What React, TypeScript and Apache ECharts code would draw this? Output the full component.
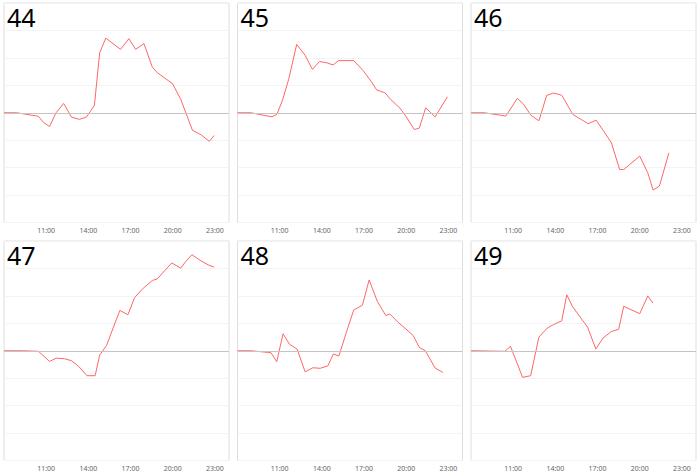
import React, { useEffect, useRef } from "react";
import * as echarts from "echarts";

const panelNames = ["44", "45", "46", "47", "48", "49"];

const p44: [number, number][] = [
  [8.0, 0], [8.9, 0], [10.45, -0.13], [10.8, -0.35], [11.24, -0.5], [11.7, 0], [12.24, 0.34],
  [12.8, -0.16], [13.36, -0.24], [13.86, -0.16], [14.43, 0.27], [14.8, 2.18], [15.24, 2.72],
  [16.29, 2.31], [16.88, 2.7], [17.36, 2.31], [17.95, 2.52], [18.55, 1.66], [18.9, 1.46],
  [19.98, 1.06], [20.57, 0.49], [21.4, -0.64], [22.0, -0.8], [22.6, -1.04], [22.95, -0.83],
];

const p45: [number, number][] = [
  [8.0, 0], [8.95, 0], [10.45, -0.15], [10.8, -0.06], [11.2, 0.46], [11.64, 1.22], [12.21, 2.49],
  [12.8, 2.1], [13.33, 1.58], [13.83, 1.87], [14.36, 1.82], [14.79, 1.74], [15.19, 1.9],
  [16.26, 1.9], [16.93, 1.54], [17.52, 1.13], [17.9, 0.83], [18.48, 0.73], [18.88, 0.49],
  [19.55, 0.17], [19.98, -0.13], [20.57, -0.61], [20.93, -0.56], [21.38, 0.18], [22.05, -0.15],
  [22.93, 0.58],
];

const p46: [number, number][] = [
  [8.0, 0], [8.93, 0], [10.48, -0.12], [11.29, 0.52], [11.71, 0.33], [12.26, -0.09], [12.83, -0.29],
  [13.38, 0.63], [13.86, 0.72], [14.45, 0.64], [15.24, -0.06], [16.33, -0.4], [16.9, -0.27],
  [17.43, -0.67], [17.98, -1.09], [18.57, -2.07], [18.86, -2.07], [20.0, -1.58], [20.57, -2.19],
  [20.95, -2.82], [21.4, -2.67], [22.07, -1.46],
];

const p47: [number, number][] = [
  [8.0, 0], [9.38, 0], [10.45, -0.02], [11.24, -0.39], [11.71, -0.27], [12.29, -0.29], [12.79, -0.36],
  [13.31, -0.57], [13.9, -0.91], [14.48, -0.91], [14.81, -0.15], [15.29, 0.19], [15.76, 0.83],
  [16.24, 1.47], [16.81, 1.31], [17.29, 1.94], [17.9, 2.28], [18.55, 2.56], [18.9, 2.62],
  [19.93, 3.2], [20.57, 3.01], [20.93, 3.26], [21.36, 3.5], [22.0, 3.28], [22.52, 3.13], [22.95, 3.05],
];

const p48: [number, number][] = [
  [8.0, 0], [8.95, 0], [10.38, -0.07], [10.79, -0.4], [11.24, 0.62], [11.69, 0.24], [12.24, 0.06],
  [12.81, -0.77], [13.36, -0.62], [13.88, -0.64], [14.43, -0.55], [14.81, -0.12], [15.21, -0.19],
  [15.74, 0.67], [16.26, 1.48], [16.88, 1.66], [17.36, 2.58], [17.95, 1.79], [18.55, 1.28],
  [18.83, 1.34], [19.43, 1.03], [19.98, 0.79], [20.5, 0.55], [20.93, 0.12], [21.36, 0],
  [22.05, -0.63], [22.6, -0.79],
];

const p49: [number, number][] = [
  [8.0, 0], [10.4, -0.02], [10.81, 0.16], [11.67, -0.97], [12.24, -0.91], [12.83, 0.5], [13.43, 0.83],
  [13.86, 0.95], [14.45, 1.09], [14.81, 2.04], [15.21, 1.62], [15.76, 1.23], [16.29, 0.86],
  [16.88, 0.06], [17.38, 0.46], [17.98, 0.7], [18.5, 0.78], [18.86, 1.62], [20.0, 1.35],
  [20.57, 2.0], [20.93, 1.74],
];

const panelData = [p44, p45, p46, p47, p48, p49];

const xMin = 8;
const xMax = 24;
const xInterval = 3;
const yMin = -4;
const yMax = 4;

export default function App() {
  const ref = useRef<HTMLDivElement>(null);

  useEffect(() => {
    if (!ref.current) return;
    const chart = echarts.init(ref.current, undefined, { renderer: "svg" });

    const lefts = [4, 237.5, 471];
    const tops = [3, 241];
    const w = 225;
    const h = 219.5;

    const grids: any[] = [];
    const xAxes: any[] = [];
    const yAxes: any[] = [];
    const series: any[] = [];
    const titles: any[] = [];

    panelData.forEach((data, i) => {
      const col = i % 3;
      const row = Math.floor(i / 3);
      grids.push({
        left: lefts[col],
        top: tops[row],
        width: w,
        height: h,
        show: true,
        borderColor: "#dedede",
        borderWidth: 1,
        backgroundColor: "transparent",
      });
      xAxes.push({
        type: "value",
        gridIndex: i,
        min: xMin,
        max: xMax,
        interval: xInterval,
        axisLine: { show: false },
        axisTick: { show: false },
        splitLine: { show: false },
        axisLabel: {
          fontSize: 7,
          color: "#666",
          margin: 4,
          fontFamily: "Noto Sans",
          formatter: (v: number) => (v === xMin || v === xMax ? "" : v + ":00"),
        },
      });
      yAxes.push({
        type: "value",
        gridIndex: i,
        min: yMin,
        max: yMax,
        interval: 1,
        axisLine: { show: false },
        axisTick: { show: false },
        axisLabel: { show: false },
        splitLine: { show: true, lineStyle: { color: "#f3f3f3", width: 1 } },
      });
      series.push({
        type: "line",
        xAxisIndex: i,
        yAxisIndex: i,
        data,
        showSymbol: false,
        symbol: "none",
        lineStyle: { color: "#ff6666", width: 1 },
        itemStyle: { color: "#ff6666" },
        emphasis: { disabled: true },
        markLine: {
          silent: true,
          symbol: "none",
          label: { show: false },
          lineStyle: { color: "#c4c4c4", type: "solid", width: 1 },
          data: [{ yAxis: 0 }],
        },
      });
      titles.push({
        text: panelNames[i],
        left: lefts[col] + 3,
        top: tops[row] + 1,
        padding: 0,
        textStyle: {
          fontSize: 25,
          fontWeight: "normal",
          color: "#000",
          fontFamily: "Noto Sans",
        },
      });
    });

    chart.setOption({
      animation: false,
      backgroundColor: "#fff",
      title: titles,
      grid: grids,
      xAxis: xAxes,
      yAxis: yAxes,
      series,
    });

    return () => chart.dispose();
  }, []);

  return (
    <div
      ref={ref}
      style={{ position: "absolute", left: 0, top: 0, width: 700, height: 475 }}
    />
  );
}
